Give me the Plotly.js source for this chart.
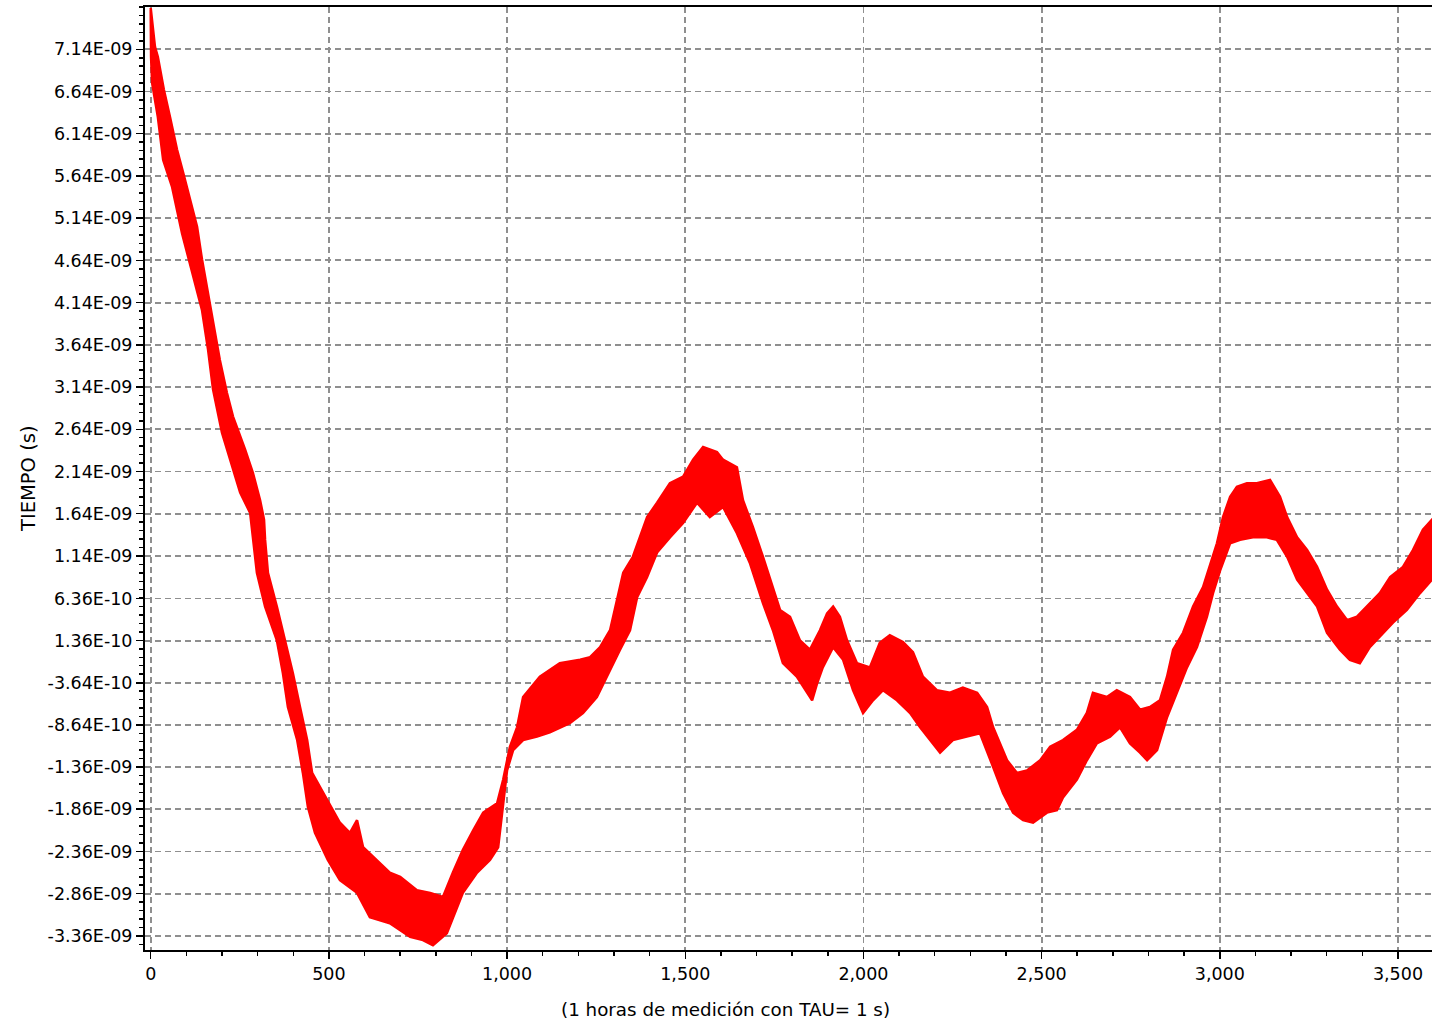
<!DOCTYPE html>
<html>
<head>
<meta charset="utf-8">
<script src="https://cdn.plot.ly/plotly-3.0.1.min.js"></script>
<style>
  html, body { margin: 0; padding: 0; background: #fff; overflow: hidden; }
  #chart { width: 1450px; height: 1021px; }
</style>
</head>
<body>
<div id="chart"></div>
<script>
// Time offset measurement, 1 hour at TAU = 1 s.
// The trace is a dense noisy band, stored as its upper and lower envelopes
// (time in s, offset in ns).
const upperT = [0, 6, 12, 20, 37, 54, 74, 91, 110, 130, 144, 161, 178, 194, 214, 231, 265, 287, 307, 318,
  321, 329, 354, 377, 399, 419, 439, 453, 495, 531, 559, 579, 596, 635, 671, 700, 747, 784, 820, 848,
  876, 905, 933, 972, 989, 1008, 1028, 1045, 1092, 1148, 1205, 1233, 1261, 1289, 1309, 1326, 1353, 1373, 1393, 1421,
  1457, 1494, 1522, 1550, 1589, 1606, 1645, 1662, 1690, 1718, 1746, 1766, 1794, 1822, 1850, 1878, 1898, 1915, 1934, 1954,
  1982, 2018, 2046, 2074, 2111, 2139, 2167, 2206, 2243, 2279, 2319, 2347, 2364, 2383, 2403, 2431, 2459, 2496, 2524, 2560,
  2599, 2627, 2644, 2683, 2711, 2748, 2776, 2804, 2832, 2852, 2869, 2897, 2925, 2953, 2972, 2992, 3009, 3029, 3048, 3076,
  3104, 3141, 3169, 3189, 3217, 3245, 3273, 3301, 3329, 3357, 3385, 3421, 3449, 3478, 3514, 3542, 3570, 3600];
const upperNs = [7.63, 7.37, 7.17, 7.05, 6.66, 6.34, 5.95, 5.68, 5.36, 5.04, 4.65, 4.25, 3.85, 3.46, 3.07, 2.79, 2.40, 2.12, 1.80, 1.57,
  1.33, 0.94, 0.54, 0.14, -0.25, -0.65, -1.04, -1.43, -1.75, -2.02, -2.14, -1.99, -2.31, -2.46, -2.61, -2.66, -2.82, -2.85, -2.90, -2.61,
  -2.34, -2.11, -1.90, -1.79, -1.51, -1.12, -0.89, -0.53, -0.29, -0.13, -0.09, -0.06, 0.06, 0.26, 0.65, 0.94, 1.13, 1.36, 1.60, 1.77,
  2.00, 2.08, 2.28, 2.43, 2.37, 2.28, 2.19, 1.80, 1.48, 1.13, 0.77, 0.50, 0.42, 0.14, 0.03, 0.26, 0.46, 0.54, 0.42, 0.14,
  -0.13, -0.18, 0.11, 0.20, 0.12, 0.00, -0.29, -0.45, -0.48, -0.42, -0.48, -0.65, -0.89, -1.08, -1.28, -1.43, -1.40, -1.28, -1.12, -1.04,
  -0.92, -0.72, -0.48, -0.53, -0.45, -0.53, -0.68, -0.65, -0.57, -0.29, 0.03, 0.23, 0.54, 0.77, 1.01, 1.29, 1.60, 1.84, 1.96, 2.00,
  2.00, 2.04, 1.84, 1.60, 1.36, 1.21, 1.01, 0.74, 0.54, 0.38, 0.42, 0.58, 0.70, 0.89, 1.01, 1.21, 1.45, 1.59];

const lowerT = [0, 1, 4, 20, 35, 60, 88, 116, 144, 161, 175, 200, 223, 251, 279, 298, 321, 354, 371, 385,
  411, 427, 441, 461, 497, 531, 579, 615, 671, 700, 728, 764, 792, 831, 848, 876, 916, 952, 975, 989,
  1000, 1017, 1045, 1084, 1120, 1176, 1213, 1252, 1289, 1317, 1345, 1365, 1393, 1421, 1457, 1494, 1533, 1569, 1606, 1645,
  1681, 1718, 1746, 1774, 1813, 1842, 1856, 1870, 1886, 1915, 1943, 1971, 1999, 2027, 2055, 2094, 2131, 2159, 2195, 2215,
  2251, 2290, 2327, 2364, 2392, 2420, 2448, 2476, 2515, 2543, 2560, 2599, 2627, 2655, 2692, 2720, 2748, 2776, 2796, 2824,
  2852, 2880, 2908, 2936, 2964, 2981, 3001, 3029, 3057, 3093, 3132, 3160, 3189, 3217, 3245, 3273, 3301, 3337, 3365, 3393,
  3421, 3449, 3486, 3525, 3562, 3600];
const lowerNs = [7.61, 7.05, 6.74, 6.34, 5.83, 5.51, 4.96, 4.49, 4.05, 3.58, 3.11, 2.60, 2.28, 1.89, 1.65, 0.94, 0.54, 0.14, -0.25, -0.65,
  -1.04, -1.43, -1.83, -2.14, -2.46, -2.70, -2.85, -3.14, -3.21, -3.29, -3.37, -3.41, -3.47, -3.33, -3.14, -2.85, -2.61, -2.46, -2.31, -1.83,
  -1.40, -1.16, -1.04, -1.00, -0.95, -0.84, -0.72, -0.53, -0.21, 0.03, 0.26, 0.65, 0.89, 1.18, 1.36, 1.53, 1.77, 1.60, 1.72, 1.41,
  1.06, 0.58, 0.26, -0.13, -0.29, -0.48, -0.57, -0.37, -0.18, 0.06, -0.09, -0.45, -0.72, -0.57, -0.45, -0.57, -0.72, -0.89, -1.08, -1.19,
  -1.04, -1.00, -0.96, -1.36, -1.67, -1.90, -1.99, -2.02, -1.90, -1.87, -1.72, -1.51, -1.28, -1.08, -1.00, -0.89, -1.08, -1.19, -1.28, -1.16,
  -0.77, -0.48, -0.18, 0.06, 0.42, 0.70, 0.97, 1.29, 1.33, 1.36, 1.36, 1.33, 1.13, 0.86, 0.70, 0.54, 0.23, 0.03, -0.09, -0.13,
  0.06, 0.18, 0.35, 0.50, 0.70, 0.88];

// Y axis tick positions (ns) and their labels
const yTickNs = [7.14, 6.64, 6.14, 5.64, 5.14, 4.64, 4.14, 3.64, 3.14, 2.64, 2.14, 1.64, 1.14, 0.636, 0.136,
  -0.364, -0.864, -1.36, -1.86, -2.36, -2.86, -3.36];
const yTickText = ['7.14E-09', '6.64E-09', '6.14E-09', '5.64E-09', '5.14E-09', '4.64E-09', '4.14E-09', '3.64E-09',
  '3.14E-09', '2.64E-09', '2.14E-09', '1.64E-09', '1.14E-09', '6.36E-10', '1.36E-10', '-3.64E-10', '-8.64E-10',
  '-1.36E-09', '-1.86E-09', '-2.36E-09', '-2.86E-09', '-3.36E-09'];

const xTitle = '(1 horas de medición con TAU= 1 s)';
const yTitle = 'TIEMPO (s)';

const NS = 1e-9;
const toSec = a => a.map(v => v * NS);

// Closed band outline: upper envelope forward, lower envelope backward
const bandX = upperT.concat(lowerT.slice().reverse());
const bandY = toSec(upperNs).concat(toSec(lowerNs).slice().reverse());

const RED = '#ff0000';
const GRID = '#8f8f8f';
const FONT = 'DejaVu Sans, Verdana, sans-serif';

const traces = [{
  type: 'scatter',
  mode: 'lines',
  x: bandX,
  y: bandY,
  fill: 'toself',
  fillcolor: RED,
  line: { color: RED, width: 2.5 },
  hoverinfo: 'skip',
  showlegend: false
}];

const layout = {
  width: 1450,
  height: 1021,
  margin: { l: 145, r: 0, t: 7, b: 71, pad: 0 },
  paper_bgcolor: '#ffffff',
  plot_bgcolor: '#ffffff',
  showlegend: false,
  font: { family: FONT, size: 17, color: '#000' },
  xaxis: {
    range: [-16, 3646],
    tickmode: 'linear',
    tick0: 0,
    dtick: 500,
    tickformat: ',d',
    ticks: 'outside',
    ticklen: 7,
    tickwidth: 1.5,
    tickcolor: '#000',
    minor: { tickmode: 'linear', tick0: 0, dtick: 100, ticks: 'outside', ticklen: 4, tickwidth: 1.5, tickcolor: '#000', showgrid: false },
    showgrid: true,
    gridcolor: GRID,
    gridwidth: 1.8,
    griddash: '6px,4px',
    zeroline: false,
    showline: true,
    linecolor: '#000',
    linewidth: 2,
    mirror: true,
    tickfont: { family: FONT, size: 17.5, color: '#000' }
  },
  yaxis: {
    range: [-3.527 * NS, 7.641 * NS],
    tickmode: 'array',
    tickvals: toSec(yTickNs),
    ticktext: yTickText,
    ticks: 'outside',
    ticklen: 7,
    tickwidth: 1.5,
    tickcolor: '#000',
    minor: { tickmode: 'linear', tick0: 7.14 * NS, dtick: 0.1 * NS, ticks: 'outside', ticklen: 4, tickwidth: 1.5, tickcolor: '#000', showgrid: false },
    showgrid: true,
    gridcolor: GRID,
    gridwidth: 1.8,
    griddash: '6px,4px',
    zeroline: false,
    showline: true,
    linecolor: '#000',
    linewidth: 2,
    tickfont: { family: FONT, size: 17.5, color: '#000' }
  },
  annotations: [
    {
      text: xTitle, xref: 'paper', yref: 'paper', x: 0.4452, y: -0.0636,
      xanchor: 'center', yanchor: 'middle', showarrow: false,
      font: { family: FONT, size: 18.3, color: '#000' }
    },
    {
      text: yTitle, xref: 'paper', yref: 'paper', x: -0.0897, y: 0.5005,
      xanchor: 'center', yanchor: 'middle', textangle: -90, showarrow: false,
      font: { family: FONT, size: 19.5, color: '#000' }
    }
  ]
};

Plotly.newPlot('chart', traces, layout, { displayModeBar: false, staticPlot: true });
</script>
</body>
</html>
